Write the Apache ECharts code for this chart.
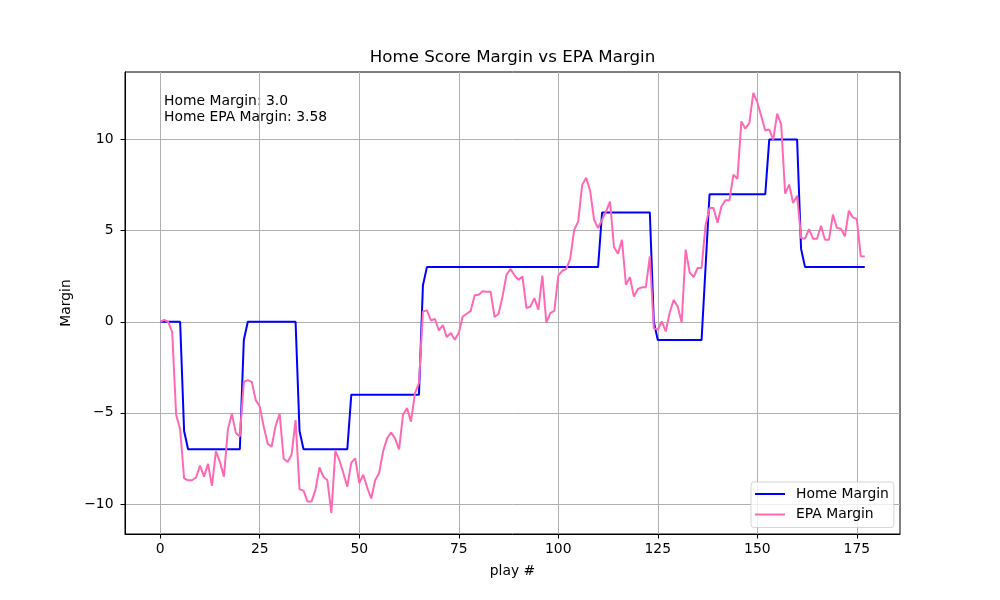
<!DOCTYPE html>
<html>
<head>
<meta charset="utf-8">
<title>Home Score Margin vs EPA Margin</title>
<script src="https://cdn.jsdelivr.net/npm/echarts@6.0.0/dist/echarts.min.js"></script>
<style>
    html, body { margin: 0; padding: 0; background: #fff; }
    #chart { width: 1000px; height: 600px; }
</style>
</head>
<body>
<div id="chart"></div>
<script>
// score margin after each play (home - away)
var homeMargin = [
    0, 0, 0, 0, 0, 0, -6, -7, -7, -7,
    -7, -7, -7, -7, -7, -7, -7, -7, -7, -7,
    -7, -1, 0, 0, 0, 0, 0, 0, 0, 0,
    0, 0, 0, 0, 0, -6, -7, -7, -7, -7,
    -7, -7, -7, -7, -7, -7, -7, -7, -4, -4,
    -4, -4, -4, -4, -4, -4, -4, -4, -4, -4,
    -4, -4, -4, -4, -4, -4, 2, 3, 3, 3,
    3, 3, 3, 3, 3, 3, 3, 3, 3, 3,
    3, 3, 3, 3, 3, 3, 3, 3, 3, 3,
    3, 3, 3, 3, 3, 3, 3, 3, 3, 3,
    3, 3, 3, 3, 3, 3, 3, 3, 3, 3,
    3, 6, 6, 6, 6, 6, 6, 6, 6, 6,
    6, 6, 6, 6, 0, -1, -1, -1, -1, -1,
    -1, -1, -1, -1, -1, -1, -1, 3, 7, 7,
    7, 7, 7, 7, 7, 7, 7, 7, 7, 7,
    7, 7, 7, 10, 10, 10, 10, 10, 10, 10,
    10, 4, 3, 3, 3, 3, 3, 3, 3, 3,
    3, 3, 3, 3, 3, 3, 3, 3
];

var epaMargin = [
    0.0, 0.1, 0.0, -0.55, -5.1, -5.9, -8.6, -8.7, -8.7, -8.55,
    -7.9, -8.5, -7.8, -9.0, -7.1, -7.7, -8.5, -5.9, -5.05, -6.1,
    -6.3, -3.3, -3.2, -3.3, -4.3, -4.65, -5.75, -6.7, -6.85, -5.7,
    -5.05, -7.5, -7.7, -7.3, -5.4, -9.2, -9.27, -9.87, -9.87, -9.23,
    -8.0, -8.5, -8.7, -10.5, -7.09, -7.6, -8.3, -9.05, -7.73, -7.5,
    -8.86, -8.4, -9.1, -9.7, -8.7, -8.3, -7.1, -6.4, -6.08, -6.4,
    -7.0, -5.1, -4.74, -5.48, -3.92, -3.37, 0.57, 0.62, 0.07, 0.16,
    -0.48, -0.18, -0.84, -0.62, -0.99, -0.62, 0.29, 0.44, 0.6, 1.45,
    1.48, 1.68, 1.65, 1.65, 0.26, 0.44, 1.39, 2.58, 2.89, 2.55,
    2.3, 2.49, 0.75, 0.84, 1.3, 0.66, 2.53, -0.04, 0.48, 0.6,
    2.53, 2.8, 2.9, 3.45, 5.05, 5.5, 7.5, 7.9, 7.2, 5.6,
    5.15, 5.6, 6.06, 6.6, 4.1, 3.74, 4.5, 2.03, 2.45, 1.39,
    1.8, 1.89, 1.89, 3.59, -0.35, -0.44, 0.02, -0.53, 0.51, 1.2,
    0.84, -0.04, 3.96, 2.71, 2.45, 2.95, 2.95, 5.3, 6.25, 6.25,
    5.44, 6.34, 6.67, 6.67, 8.08, 7.84, 11.0, 10.6, 10.9, 12.56,
    12.05, 11.28, 10.5, 10.55, 10.0, 11.43, 10.82, 7.03, 7.53, 6.52,
    6.92, 4.6, 4.56, 5.09, 4.56, 4.56, 5.27, 4.5, 4.5, 5.88,
    5.15, 5.11, 4.69, 6.1, 5.73, 5.64, 3.59, 3.58
];

var xTicks = [0, 25, 50, 75, 100, 125, 150, 175];
var yTicks = [-10, -5, 0, 5, 10];

var finalHome = '3.0';
var finalEpa = '3.58';

var FONT = 'DejaVu Sans';
var FS = 13.9;

(function() {
    drawChart();
})();

function fmt(v) {
    // matplotlib uses a real minus sign
    return v < 0 ? '\u2212' + Math.abs(v) : String(v);
}

function toPairs(values) {
    var out = [];
    for (var i = 0; i < values.length; i++) {
        out.push([i, values[i]]);
    }
    return out;
}

function drawChart() {
    var chart = echarts.init(document.getElementById('chart'), null, { renderer: 'canvas' });

    var axisCommon = {
        type: 'value',
        axisLine: { show: true, onZero: false, lineStyle: { color: '#000', width: 1 } },
        axisTick: { show: true, length: 4.5, lineStyle: { color: '#000', width: 1 } },
        splitLine: { show: true, lineStyle: { color: '#b0b0b0', width: 1 } },
        nameTextStyle: { fontFamily: FONT, fontSize: FS, color: '#000' }
    };

    var option = {
        animation: false,
        backgroundColor: '#fff',
        title: {
            text: 'Home Score Margin vs EPA Margin',
            left: 512.5,
            top: 49,
            textAlign: 'center',
            padding: 0,
            textStyle: { fontFamily: FONT, fontSize: 16.67, fontWeight: 'normal', color: '#000' }
        },
        grid: {
            left: 125,
            right: 100,
            top: 72,
            bottom: 66,
            show: true,
            borderColor: '#000',
            borderWidth: 1
        },
        legend: {
            left: 751,
            top: 482,
            orient: 'vertical',
            icon: 'rect',
            itemWidth: 30,
            itemHeight: 2,
            itemGap: 4.5,
            padding: [4, 5, 5, 4],
            backgroundColor: 'rgba(255,255,255,0.8)',
            borderColor: 'rgba(204,204,204,0.8)',
            borderWidth: 1,
            borderRadius: 3,
            textStyle: {
                fontFamily: FONT, fontSize: FS, color: '#000',
                lineHeight: 16, padding: [0, 0, 0, 6]
            },
            data: ['Home Margin', 'EPA Margin']
        },
        xAxis: echarts.util.merge({
            min: -8.85,
            max: 185.85,
            name: 'play #',
            nameLocation: 'middle',
            nameGap: 30,
            axisTick: { customValues: xTicks },
            axisLabel: {
                customValues: xTicks,
                margin: 8.5,
                fontFamily: FONT, fontSize: FS, color: '#000',
                formatter: fmt
            }
        }, axisCommon),
        yAxis: echarts.util.merge({
            min: -11.65,
            max: 13.71,
            name: 'Margin',
            nameLocation: 'middle',
            nameGap: 44,
            axisTick: { customValues: yTicks },
            axisLabel: {
                customValues: yTicks,
                margin: 11.5,
                fontFamily: FONT, fontSize: FS, color: '#000',
                formatter: fmt
            }
        }, axisCommon),
        graphic: [{
            type: 'text',
            left: 164,
            top: 93,
            style: {
                text: 'Home Margin: ' + finalHome + '\nHome EPA Margin: ' + finalEpa,
                font: FS + 'px "DejaVu Sans"',
                lineHeight: 16.3,
                fill: '#000'
            }
        }],
        series: [
            {
                name: 'Home Margin',
                type: 'line',
                symbol: 'none',
                color: '#0000ff',
                lineStyle: { width: 2, color: '#0000ff' },
                data: toPairs(homeMargin)
            },
            {
                name: 'EPA Margin',
                type: 'line',
                symbol: 'none',
                color: '#ff69b4',
                lineStyle: { width: 2, color: '#ff69b4' },
                data: toPairs(epaMargin)
            }
        ]
    };

    chart.setOption(option);
}
</script>
</body>
</html>
